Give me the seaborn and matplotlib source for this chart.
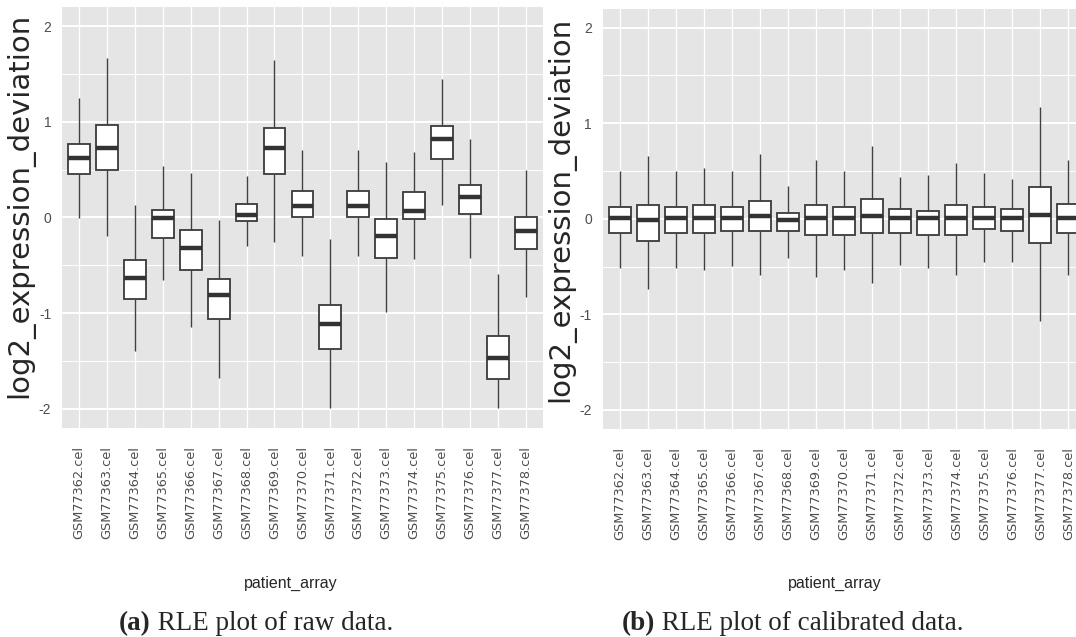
import numpy as np
import pandas as pd
import matplotlib.pyplot as plt
import seaborn as sns
from matplotlib.ticker import MultipleLocator

# patient arrays (x categories)
arrays = [
    "GSM77362.cel", "GSM77363.cel", "GSM77364.cel", "GSM77365.cel",
    "GSM77366.cel", "GSM77367.cel", "GSM77368.cel", "GSM77369.cel",
    "GSM77370.cel", "GSM77371.cel", "GSM77372.cel", "GSM77373.cel",
    "GSM77374.cel", "GSM77375.cel", "GSM77376.cel", "GSM77377.cel",
    "GSM77378.cel",
]

# (a) raw data: whisker ends, quartiles, median
raw_low = [-0.01, -0.19, -1.40, -0.66, -1.15, -1.68, -0.30, -0.26, -0.40,
           -1.99, -0.40, -0.99, -0.44, 0.13, -0.42, -1.99, -0.83]
raw_q1 = [0.45, 0.49, -0.85, -0.22, -0.55, -1.06, -0.04, 0.45, 0.00,
          -1.38, 0.00, -0.42, -0.02, 0.61, 0.04, -1.69, -0.33]
raw_med = [0.62, 0.72, -0.63, -0.01, -0.32, -0.81, 0.02, 0.72, 0.12,
           -1.11, 0.12, -0.20, 0.07, 0.82, 0.21, -1.47, -0.14]
raw_q3 = [0.77, 0.97, -0.45, 0.08, -0.13, -0.64, 0.14, 0.93, 0.28,
          -0.92, 0.28, -0.02, 0.26, 0.95, 0.34, -1.24, 0.00]
raw_high = [1.25, 1.67, 0.13, 0.54, 0.46, -0.03, 0.43, 1.65, 0.70,
            -0.23, 0.70, 0.58, 0.68, 1.45, 0.82, -0.59, 0.50]

# (b) calibrated data
cal_low = [-0.51, -0.73, -0.51, -0.53, -0.49, -0.59, -0.41, -0.61, -0.53,
           -0.67, -0.48, -0.51, -0.59, -0.45, -0.45, -1.07, -0.59]
cal_q1 = [-0.15, -0.23, -0.15, -0.15, -0.13, -0.13, -0.13, -0.17, -0.17,
          -0.15, -0.15, -0.17, -0.17, -0.11, -0.13, -0.25, -0.15]
cal_med = [0.01, -0.01, 0.01, 0.01, 0.01, 0.03, -0.01, 0.01, 0.01,
           0.03, 0.01, 0.01, 0.01, 0.01, 0.01, 0.04, 0.01]
cal_q3 = [0.12, 0.14, 0.12, 0.14, 0.12, 0.19, 0.06, 0.14, 0.12,
          0.21, 0.10, 0.08, 0.14, 0.12, 0.10, 0.33, 0.16]
cal_high = [0.50, 0.66, 0.50, 0.53, 0.50, 0.68, 0.34, 0.62, 0.50,
            0.76, 0.44, 0.46, 0.58, 0.48, 0.42, 1.17, 0.62]


def five_number_frame(low, q1, med, q3, high):
    # five values per array -> quartiles of these are exactly q1/med/q3
    rows = []
    for i, name in enumerate(arrays):
        for v in (low[i], q1[i], med[i], q3[i], high[i]):
            rows.append({"patient_array": name, "log2_expression_deviation": v})
    return pd.DataFrame(rows)


def draw_rle(ax, df):
    ax.set_facecolor("#E5E5E5")
    ax.set_axisbelow(True)
    sns.boxplot(
        data=df,
        x="patient_array",
        y="log2_expression_deviation",
        order=arrays,
        whis=(0, 100),
        width=0.78,
        color="white",
        saturation=1,
        linecolor="#3A3A3A",
        linewidth=1.3,
        showcaps=False,
        showfliers=False,
        whiskerprops=dict(linewidth=1.0, color="#404040"),
        medianprops=dict(linewidth=3.2, color="#333333"),
        ax=ax,
    )
    ax.set_xlim(-0.6, len(arrays) - 0.4)
    ax.set_ylim(-2.2, 2.2)
    ax.yaxis.set_major_locator(MultipleLocator(1))
    ax.yaxis.set_minor_locator(MultipleLocator(0.5))
    ax.grid(which="major", axis="y", color="white", linewidth=1.4)
    ax.grid(which="minor", axis="y", color="white", linewidth=0.7)
    ax.grid(which="major", axis="x", color="white", linewidth=0.9)
    for s in ax.spines.values():
        s.set_visible(False)
    ax.tick_params(axis="y", which="minor", length=0)
    ax.tick_params(axis="both", which="major", length=5, width=0.8,
                   color="#333333", labelcolor="#4D4D4D")
    ax.tick_params(axis="y", pad=3)
    ax.tick_params(axis="x", pad=8)
    ax.set_xticks(range(len(arrays)))
    ax.set_xticklabels(arrays, rotation=90, fontsize=9.3,
                       family="DejaVu Sans")
    for lab in ax.get_yticklabels():
        lab.set_fontsize(10)
        lab.set_family(["Liberation Sans Narrow", "Liberation Sans"])
    ax.set_xlabel("")
    ax.set_ylabel("")


sns.set_style("white")
plt.rcParams["axes.unicode_minus"] = False

W, H = 1076, 637
fig = plt.figure(figsize=(W / 100, H / 100), dpi=100)


def px_axes(left, top, right, bottom):
    return fig.add_axes([left / W, 1 - bottom / H, (right - left) / W, (bottom - top) / H])


ax_a = px_axes(62.3, 6.9, 542.5, 427.8)
ax_b = px_axes(603.2, 8.6, 1085.2, 429.1)

draw_rle(ax_a, five_number_frame(raw_low, raw_q1, raw_med, raw_q3, raw_high))
draw_rle(ax_b, five_number_frame(cal_low, cal_q1, cal_med, cal_q3, cal_high))

# y axis titles
for x, y in [(20, 205), (561, 209)]:
    fig.text(x / W, 1 - y / H, "log2_expression_deviation", rotation=90,
             ha="center", va="center", fontsize=21, family="DejaVu Sans")

# x axis titles
for x in (291, 835):
    fig.text(x / W, 1 - 588 / H, "patient_array", ha="center", va="baseline",
             fontsize=11.5, family="Liberation Sans")

# sub-captions: bold label then normal text
renderer = fig.canvas.get_renderer()
for x0, tag, rest in [(119, "(a)", " RLE plot of raw data."),
                      (622, "(b)", " RLE plot of calibrated data.")]:
    t = fig.text(x0 / W, 1 - 630 / H, tag, ha="left", va="baseline",
                 fontsize=19.5, fontweight="bold", family="Liberation Serif")
    bb = t.get_window_extent(renderer)
    fig.text(bb.x1 / W, 1 - 630 / H, rest, ha="left", va="baseline",
             fontsize=19.5, family="Liberation Serif")

fig.savefig("out.png", dpi=100)
